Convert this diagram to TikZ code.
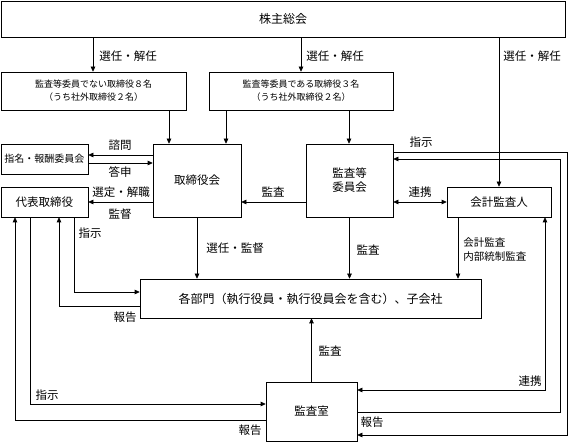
\documentclass[tikz,border=0pt]{standalone}
\usepackage{fontspec}
\setmainfont{Noto Sans CJK JP}
\usetikzlibrary{arrows.meta}
\newcommand\jfs[2]{\fontsize{#1}{#2}\selectfont}
\begin{document}
\begin{tikzpicture}[x=1pt,y=-1pt,line width=0.6pt,
  box/.style={draw, inner sep=0pt, align=center, font=\jfs{11.5}{14}},
  lab/.style={inner sep=0pt, font=\jfs{11.5}{14}},
  arr/.style={-{Triangle[length=5pt,width=4.5pt]}},
  dbl/.style={{Triangle[length=5pt,width=4.5pt]}-{Triangle[length=5pt,width=4.5pt]}}]
\useasboundingbox[fill=white] (0,0) rectangle (568,443);
% columns / rows
\foreach \x in {15,30,59,74,93,169,226,301,311,349,458,499,545,560,567}{\coordinate (c\x) at (\x,0);}
\foreach \y in {152,155,159,163,292,306,390,404,412,420,435}{\coordinate (r\y) at (0,\y);}
% boxes
\node[box, minimum width=564pt, minimum height=36pt, font=\jfs{12}{14}] (sh) at (283,19) {株主総会};
\node[box, minimum width=185pt, minimum height=38pt, font=\jfs{9}{13}] (d1) at (93.5,91) {監査等委員でない取締役８名\\（うち社外取締役２名）};
\node[box, minimum width=184pt, minimum height=38pt, font=\jfs{9}{13}] (d2) at (301,91) {監査等委員である取締役３名\\（うち社外取締役２名）};
\node[box, minimum width=87pt, minimum height=30pt, font=\jfs{10}{12}] (nom) at (44.5,159) {指名・報酬委員会};
\node[box, minimum width=87pt, minimum height=30pt] (rep) at (44.5,202) {代表取締役};
\node[box, minimum width=88pt, minimum height=73pt] (bod) at (197,180.5) {取締役会};
\node[box, minimum width=87pt, minimum height=73pt] (ac) at (349.5,180.5) {監査等\\委員会};
\node[box, minimum width=104pt, minimum height=30pt] (aud) at (499,202) {会計監査人};
\node[box, minimum width=341pt, minimum height=39pt, font=\jfs{12}{14}] (dept) at (310.5,298.5) {各部門（執行役員・執行役員会を含む）、子会社};
\node[box, minimum width=91pt, minimum height=59pt] (ia) at (311.5,411.5) {監査室};
% connectors from top
\draw[arr] (sh.south -| c93) -- (d1.north -| c93);
\draw[arr] (sh.south -| c301) -- (d2.north -| c301);
\draw[arr] (sh.south -| c499) -- (aud.north);
\draw[arr] (d1.south -| c169) -- (bod.north -| c169);
\draw[arr] (d2.south -| c226) -- (bod.north -| c226);
\draw[arr] (d2.south -| c349) -- (ac.north -| c349);
% middle row
\draw[arr] (bod.west |- r155) -- (nom.east |- r155);
\draw[arr] (nom.east |- r163) -- (bod.west |- r163);
\draw[arr] (bod.west |- rep.east) -- (rep.east);
\draw[arr] (ac.west |- rep.east) -- (bod.east |- rep.east);
\draw[dbl] (ac.east |- aud.west) -- (aud.west);
% down to departments
\draw[arr] (bod.south) -- (dept.north -| bod.south);
\draw[arr] (ac.south) -- (dept.north -| ac.south);
\draw[arr] (aud.south -| c458) -- (dept.north -| c458);
\draw[arr] (ia.north) -- (dept.south -| ia.north);
% left side
\draw[arr] (rep.south -| c74) |- (dept.west |- r292);
\draw[arr] (dept.west |- r306) -| (rep.south -| c59);
\draw[arr] (rep.south -| c30) |- (ia.west |- r404);
\draw[arr] (ia.west |- r420) -| (rep.south -| c15);
% right side
\draw[arr] (ac.east |- r152) -| (c567 |- r435) -- (ia.east |- r435);
\draw[arr] (ia.east |- r412) -| (c560 |- r159) -- (ac.east |- r159);
\draw[dbl] (aud.south -| c545) |- (ia.east |- r390);
% labels
\node[lab, anchor=west] (l1) at (99,56) {選任・解任};
\node[lab, anchor=west] (l2) at (306,56) {選任・解任};
\node[lab, anchor=west] (l3) at (503,56) {選任・解任};
\node[lab] (l4) at (120,145) {諮問};
\node[lab] (l5) at (120,172) {答申};
\node[lab] (l6) at (121,192) {選定・解職};
\node[lab] (l7) at (120,214) {監督};
\node[lab] (l8) at (273,192) {監査};
\node[lab] (l9) at (421,142) {指示};
\node[lab] (l10) at (420,192) {連携};
\node[lab] (l11) at (235,248) {選任・監督};
\node[lab] (l12) at (368,250) {監査};
\node[lab, anchor=west, align=left, font=\jfs{10.5}{14}] (l13) at (463,250) {会計監査\\内部統制監査};
\node[lab] (l14) at (90,233) {指示};
\node[lab] (l15) at (125,317) {報告};
\node[lab] (l16) at (47,395) {指示};
\node[lab] (l17) at (250,430) {報告};
\node[lab] (l18) at (330,351) {監査};
\node[lab] (l19) at (530,381) {連携};
\node[lab] (l20) at (372,422) {報告};
\end{tikzpicture}
\end{document}
